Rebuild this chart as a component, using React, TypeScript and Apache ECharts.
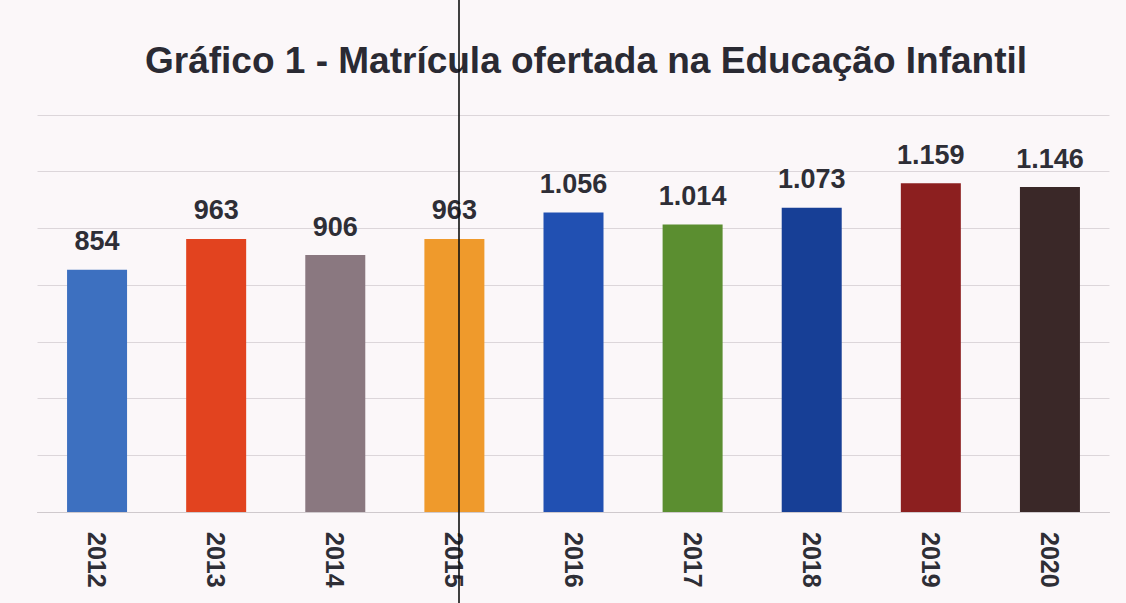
import React, { useEffect, useRef } from "react";
import * as echarts from "echarts";

const titleText = "Gráfico 1 - Matrícula ofertada na Educação Infantil";
const years = ["2012", "2013", "2014", "2015", "2016", "2017", "2018", "2019", "2020"];
const enrollments = [854, 963, 906, 963, 1056, 1014, 1073, 1159, 1146];
const barColors = [
  "#3d70c0",
  "#e2431f",
  "#8a7880",
  "#ef9a2c",
  "#2150b2",
  "#5b8e30",
  "#173f96",
  "#8c1f1f",
  "#3a2828",
];

const fmt = (v: number) => String(v).replace(/\B(?=(\d{3})+(?!\d))/g, ".");

export default function App() {
  const ref = useRef<HTMLDivElement>(null);
  useEffect(() => {
    if (!ref.current) return;
    const chart = echarts.init(ref.current, null, { renderer: "svg" });
    chart.setOption({
      animation: false,
      backgroundColor: "#fbf7f9",
      title: {
        text: titleText,
        left: 140,
        top: 37,
        textStyle: {
          fontFamily: "Liberation Sans, Arial, sans-serif",
          fontWeight: "bold",
          fontSize: 37,
          color: "#2a2a33",
        },
      },
      grid: { left: 37.5, right: 16.5, top: 115, bottom: 91 },
      xAxis: {
        type: "category",
        data: years,
        axisTick: { show: false },
        axisLine: { lineStyle: { color: "#cfc9cd", width: 1 } },
        axisLabel: {
          rotate: -90,
          margin: 20,
          fontFamily: "Liberation Sans, Arial, sans-serif",
          fontWeight: "bold",
          fontSize: 25,
          color: "#2e2e36",
        },
      },
      yAxis: {
        type: "value",
        min: 0,
        max: 1400,
        interval: 200,
        axisLabel: { show: false },
        axisLine: { show: false },
        axisTick: { show: false },
        splitLine: { lineStyle: { color: "#dcd6da", width: 1 } },
      },
      series: [
        {
          type: "bar",
          barWidth: 60,
          data: enrollments.map((v, i) => ({ value: v, itemStyle: { color: barColors[i] } })),
          label: {
            show: true,
            position: "top",
            distance: 15,
            formatter: (p: any) => fmt(p.value),
            fontFamily: "Liberation Sans, Arial, sans-serif",
            fontWeight: "bold",
            fontSize: 27,
            color: "#2e2e36",
          },
        },
      ],
      graphic: [
        {
          type: "line",
          shape: { x1: 459, y1: 0, x2: 459, y2: 603 },
          style: { stroke: "#111", lineWidth: 1.6 },
          z: 100,
        },
      ],
    });
    return () => chart.dispose();
  }, []);
  return (
    <div
      ref={ref}
      style={{ position: "fixed", left: 0, top: 0, width: 1126, height: 603 }}
    />
  );
}
